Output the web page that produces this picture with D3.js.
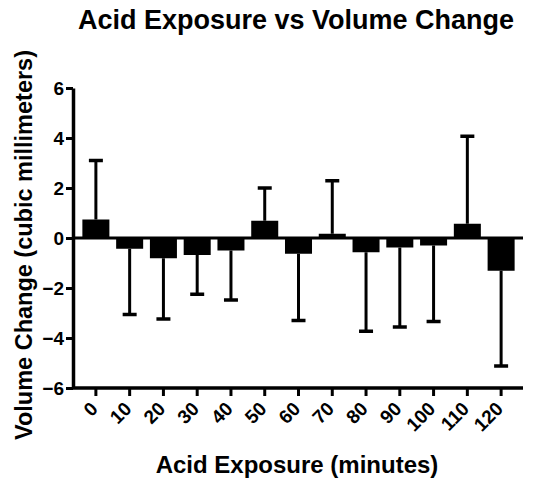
<!DOCTYPE html>
<html lang="en">
<head>
  <meta charset="UTF-8">
  <title>Acid Exposure vs Volume Change</title>
  <script src="https://d3js.org/d3.v7.min.js"></script>
  <style>
    body { margin: 0; background: #fff; font-family: "Liberation Sans", Arial, sans-serif; }
    svg text { font-weight: bold; fill: #000; }
  </style>
</head>
<body>
<div id="chart"></div>
<script>
const width = 536, height = 488;

// data
const minutes = ["0", "10", "20", "30", "40", "50", "60", "70", "80", "90", "100", "110", "120"];
const meanChange = [0.74, -0.43, -0.81, -0.68, -0.5, 0.69, -0.63, 0.17, -0.57, -0.38, -0.3, 0.57, -1.31];
const errorEnd = [3.1, -3.06, -3.24, -2.25, -2.48, 2.0, -3.3, 2.29, -3.73, -3.56, -3.34, 4.07, -5.12];
const yTicks = [-6, -4, -2, 0, 2, 4, 6];

const rows = minutes.map((m, i) => ({ m, v: meanChange[i], e: errorEnd[i] }));

const svg = d3.select("#chart")
  .append("svg")
  .attr("width", width)
  .attr("height", height);

const x = d3.scaleBand()
  .domain(minutes)
  .range([79, 518])
  .paddingInner(0.2)
  .paddingOuter(0.1);

const y = d3.scaleLinear()
  .domain([-6, 6])
  .range([388, 88]);

const axisLeft = 73, axisRight = 523;

// bars
svg.selectAll("rect.bar")
  .data(rows)
  .enter()
  .append("rect")
  .attr("class", "bar")
  .attr("x", d => x(d.m))
  .attr("width", x.bandwidth())
  .attr("y", d => y(Math.max(0, d.v)))
  .attr("height", d => Math.abs(y(d.v) - y(0)))
  .attr("fill", "#000");

// error bars (one-sided, away from zero)
const err = svg.selectAll("g.err")
  .data(rows)
  .enter()
  .append("g")
  .attr("class", "err");

err.append("line")
  .attr("x1", d => x(d.m) + x.bandwidth() / 2)
  .attr("x2", d => x(d.m) + x.bandwidth() / 2)
  .attr("y1", d => y(d.v))
  .attr("y2", d => y(d.e))
  .attr("stroke", "#000")
  .attr("stroke-width", 3);

err.append("line")
  .attr("x1", d => x(d.m) + x.bandwidth() / 2 - 7)
  .attr("x2", d => x(d.m) + x.bandwidth() / 2 + 7)
  .attr("y1", d => y(d.e))
  .attr("y2", d => y(d.e))
  .attr("stroke", "#000")
  .attr("stroke-width", 3.5);

// zero line
svg.append("line")
  .attr("x1", axisLeft)
  .attr("x2", axisRight)
  .attr("y1", y(0))
  .attr("y2", y(0))
  .attr("stroke", "#000")
  .attr("stroke-width", 3);

// y axis
const gy = svg.append("g")
  .attr("transform", `translate(${axisLeft},0)`)
  .call(d3.axisLeft(y).tickValues(yTicks).tickSize(7).tickPadding(2).tickSizeOuter(0));
gy.select(".domain").attr("stroke-width", 3.5);
gy.selectAll(".tick line").attr("stroke-width", 3);
gy.selectAll(".tick text")
  .style("font-size", "19px")
  .style("font-family", "'Liberation Sans', Arial, sans-serif");

// x axis
const gx = svg.append("g")
  .attr("transform", `translate(0,${y(-6)})`)
  .call(d3.axisBottom(x).tickSize(8).tickSizeOuter(0));
gx.select(".domain")
  .attr("d", `M${axisLeft},0H${axisRight}`)
  .attr("stroke-width", 3.5);
gx.selectAll(".tick line").attr("stroke-width", 3);
gx.selectAll(".tick text")
  .style("font-size", "19px")
  .style("font-family", "'Liberation Sans', Arial, sans-serif")
  .attr("text-anchor", "end")
  .attr("dy", null)
  .attr("y", 0)
  .attr("transform", "translate(3,22) rotate(-45)");

// titles
svg.append("text")
  .attr("x", 296)
  .attr("y", 29)
  .attr("text-anchor", "middle")
  .style("font-size", "27px")
  .text("Acid Exposure vs Volume Change");

svg.append("text")
  .attr("x", 297)
  .attr("y", 473)
  .attr("text-anchor", "middle")
  .style("font-size", "24px")
  .text("Acid Exposure (minutes)");

svg.append("text")
  .attr("transform", "translate(32,245) rotate(-90)")
  .attr("text-anchor", "middle")
  .style("font-size", "23.5px")
  .text("Volume Change (cubic millimeters)");
</script>
</body>
</html>
